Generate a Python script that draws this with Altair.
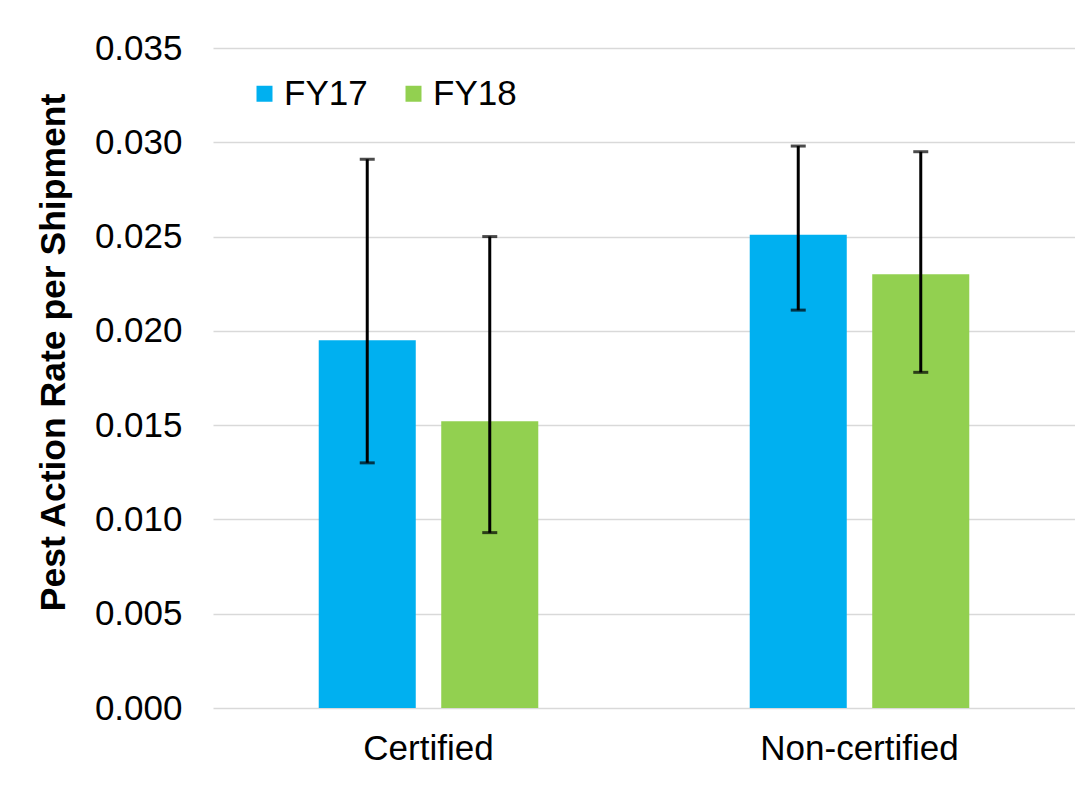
import altair as alt
import pandas as pd

categories = ["Certified", "Certified", "Non-certified", "Non-certified"]
years = ["FY17", "FY18", "FY17", "FY18"]
rates = [0.0195, 0.0152, 0.0251, 0.0230]
lows = [0.0130, 0.0093, 0.0211, 0.0178]
highs = [0.0291, 0.0250, 0.0298, 0.0295]

cat_order = ["Certified", "Non-certified"]
year_order = ["FY17", "FY18"]
colors = ["#00B0F0", "#92D050"]
y_ticks = [0.0, 0.005, 0.010, 0.015, 0.020, 0.025, 0.030, 0.035]

df = pd.DataFrame({"cat": categories, "year": years, "rate": rates, "lo": lows, "hi": highs})

FONT = "Liberation Sans"

x_enc = alt.X("cat:N", sort=cat_order, scale=alt.Scale(paddingInner=0, paddingOuter=0),
              axis=alt.Axis(title=None, labelAngle=0, labelFontSize=35, labelColor="#000000",
                            labelPadding=23, labelLimit=0, ticks=False, tickSize=0,
                            domain=False, grid=False, labelFont=FONT))
xo_enc = alt.XOffset("year:N", sort=year_order,
                     scale=alt.Scale(paddingInner=0.208, paddingOuter=0.863))
y_scale = alt.Scale(domain=[0, 0.035], nice=False)

bars = alt.Chart(df).mark_bar().encode(
    x=x_enc,
    xOffset=xo_enc,
    y=alt.Y("rate:Q", scale=y_scale,
            axis=alt.Axis(title="Pest Action Rate per Shipment", values=y_ticks, format=".3f",
                          labelFontSize=35, labelColor="#000000", labelFont=FONT,
                          labelPadding=31, ticks=False, tickSize=0, domain=False,
                          gridColor="#d9d9d9", gridWidth=1.5,
                          titleFontSize=35.5, titleFont=FONT, titleFontWeight="bold",
                          titleColor="#000000", titleX=-160, titleY=304, titleAngle=-90,
                          titleAlign="center", titleBaseline="middle", titleLimit=0)),
    color=alt.Color("year:N", sort=year_order,
                    scale=alt.Scale(domain=year_order, range=colors),
                    legend=alt.Legend(title=None, orient="none", legendX=34, legendY=28,
                                      direction="horizontal", symbolType="square",
                                      symbolSize=256, symbolStrokeWidth=0,
                                      labelFontSize=35, labelFont=FONT, labelColor="#000000",
                                      labelOffset=2, columnPadding=28, padding=0)),
)

rules = alt.Chart(df).mark_rule(color="#000000", strokeWidth=3).encode(
    x=alt.X("cat:N", sort=cat_order),
    xOffset=alt.XOffset("year:N", sort=year_order),
    y=alt.Y("lo:Q", scale=y_scale),
    y2="hi:Q",
)

caps_hi = alt.Chart(df).mark_tick(color="#000000", thickness=3, size=15).encode(
    x=alt.X("cat:N", sort=cat_order),
    xOffset=alt.XOffset("year:N", sort=year_order),
    y=alt.Y("hi:Q", scale=y_scale),
)
caps_lo = alt.Chart(df).mark_tick(color="#000000", thickness=3, size=15).encode(
    x=alt.X("cat:N", sort=cat_order),
    xOffset=alt.XOffset("year:N", sort=year_order),
    y=alt.Y("lo:Q", scale=y_scale),
)

chart = alt.layer(bars, rules, caps_hi, caps_lo).properties(
    width=862, height=660,
    autosize=alt.AutoSizeParams(type="none"),
    padding={"left": 205, "top": 40, "right": 0, "bottom": 77},
    background="white",
).configure_view(stroke=None)

chart.save("out.html", embed_options={"renderer": "svg", "actions": False})
